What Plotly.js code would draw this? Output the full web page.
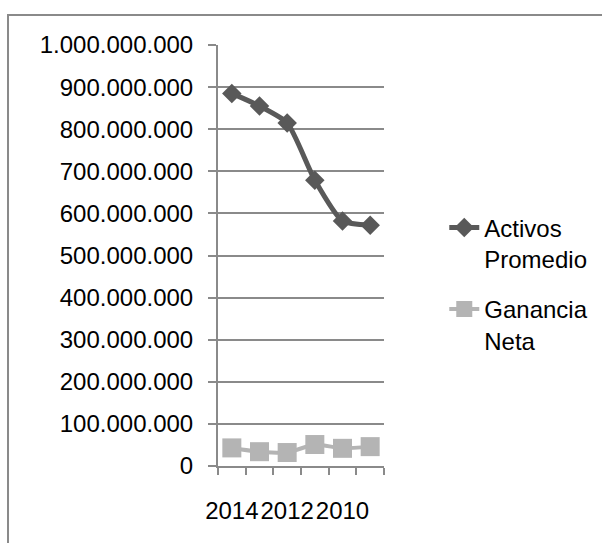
<!DOCTYPE html>
<html>
<head>
<meta charset="utf-8">
<script src="https://cdn.plot.ly/plotly-3.0.1.min.js"></script>
<style>
  html, body { margin: 0; padding: 0; background: #fff; }
  #chart { width: 602px; height: 543px; }
</style>
</head>
<body>
<div id="chart"></div>
<script>
// Years shown on the category axis (newest first)
const years = ['2014', '2013', '2012', '2011', '2010', '2009'];
const yearLabels = ['2014', '', '2012', '', '2010', ''];

// Series values
const activosPromedio = [885000000, 855000000, 815000000, 679000000, 582000000, 572000000];
const gananciaNeta = [43000000, 34000000, 32000000, 51000000, 42000000, 46000000];

// Value axis ticks
const yTicks = [0, 100000000, 200000000, 300000000, 400000000, 500000000,
                600000000, 700000000, 800000000, 900000000, 1000000000];

const axisGrey = '#8a8a8a';
const textFont = { family: 'Liberation Sans, Arial, sans-serif', color: '#000000' };

const traces = [
  {
    x: years,
    y: activosPromedio,
    name: 'Activos<br>Promedio',
    legendgroup: 'activos',
    type: 'scatter',
    mode: 'lines+markers',
    line: { color: '#595959', width: 5, shape: 'spline', smoothing: 0.6 },
    marker: { symbol: 'diamond', size: 15, color: '#595959' }
  },
  {
    x: years,
    y: gananciaNeta,
    name: 'Ganancia<br>Neta',
    legendgroup: 'ganancia',
    type: 'scatter',
    mode: 'lines+markers',
    line: { color: '#b4b4b4', width: 4, shape: 'spline', smoothing: 0.6 },
    marker: { symbol: 'square', size: 19, color: '#b4b4b4' }
  }
];

const layout = {
  width: 602,
  height: 543,
  margin: { l: 218, r: 218, t: 45, b: 77 },
  paper_bgcolor: '#ffffff',
  plot_bgcolor: '#ffffff',
  separators: ',.',
  showlegend: true,
  legend: {
    xref: 'container', yref: 'container',
    x: 0.738, xanchor: 'left',
    y: 0.477, yanchor: 'middle',
    valign: 'top',
    font: Object.assign({}, textFont, { size: 24 }),
    tracegroupgap: 16,
    bgcolor: 'rgba(0,0,0,0)'
  },
  xaxis: {
    type: 'category',
    tickmode: 'array',
    tickvals: years,
    ticktext: yearLabels,
    tickson: 'boundaries',
    ticks: 'outside',
    ticklen: 7,
    tickwidth: 2,
    tickcolor: axisGrey,
    showline: true,
    linecolor: axisGrey,
    linewidth: 2,
    showgrid: false,
    zeroline: false,
    tickangle: 0,
    ticklabelstandoff: 22,
    tickfont: Object.assign({}, textFont, { size: 24 }),
    range: [-0.5, 5.5]
  },
  yaxis: {
    range: [0, 1000000000],
    tickmode: 'array',
    tickvals: yTicks,
    tickformat: ',d',
    ticks: 'outside',
    ticklen: 8,
    tickwidth: 2,
    tickcolor: axisGrey,
    showline: true,
    linecolor: axisGrey,
    linewidth: 2,
    showgrid: true,
    gridcolor: axisGrey,
    gridwidth: 2,
    zeroline: false,
    ticklabelstandoff: 10,
    tickfont: Object.assign({}, textFont, { size: 24 })
  },
  shapes: [
    {
      type: 'rect', xref: 'paper', yref: 'paper',
      x0: -1.265, x1: 3, y0: -1, y1: 1.0713,
      line: { color: '#8a8a8a', width: 2 },
      fillcolor: 'rgba(0,0,0,0)',
      layer: 'below'
    }
  ]
};

Plotly.newPlot('chart', traces, layout, { displayModeBar: false, staticPlot: true });
</script>
</body>
</html>
